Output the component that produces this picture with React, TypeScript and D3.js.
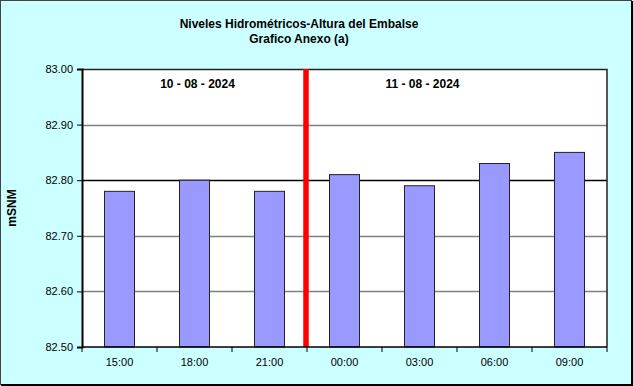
import React, { useEffect, useRef } from 'react';
import * as d3 from 'd3';

const width = 633;
const height = 386;

const categories = ['15:00', '18:00', '21:00', '00:00', '03:00', '06:00', '09:00'];
const levels = [82.78, 82.8, 82.78, 82.81, 82.79, 82.83, 82.85];
const yTicks = [82.5, 82.6, 82.7, 82.8, 82.9, 83.0];
const dayLabels = ['10 - 08 - 2024', '11 - 08 - 2024'];
const dayLabelOver = ['18:00', '03:00'];
const dayBreakAfter = '21:00';

const margin = { top: 69, right: 26, bottom: 39, left: 82 };

const App: React.FC = () => {
  const ref = useRef<SVGSVGElement>(null);

  useEffect(() => {
    if (!ref.current) return;
    const svg = d3.select(ref.current);
    svg.selectAll('*').remove();

    const plotW = width - margin.left - margin.right;
    const plotH = height - margin.top - margin.bottom;

    // outer frame
    svg
      .append('rect')
      .attr('x', 0.5)
      .attr('y', 0.5)
      .attr('width', width - 2)
      .attr('height', height - 2)
      .attr('fill', '#ccffff')
      .attr('stroke', '#444');
    svg
      .append('path')
      .attr('d', `M${width - 1},1V${height - 1}H1`)
      .attr('fill', 'none')
      .attr('stroke', '#000')
      .attr('stroke-width', 2);

    const title = svg
      .append('text')
      .attr('x', 299)
      .attr('text-anchor', 'middle')
      .style('font-family', 'Arial, "Liberation Sans", sans-serif')
      .style('font-size', '12px')
      .style('font-weight', 'bold');
    title.append('tspan').attr('x', 299).attr('y', 28).text('Niveles Hidrométricos-Altura del Embalse');
    title.append('tspan').attr('x', 299).attr('y', 43).text('Grafico Anexo (a)');

    const g = svg.append('g').attr('transform', `translate(${margin.left},${margin.top})`);

    const x = d3.scaleBand().domain(categories).range([0, plotW]).paddingInner(0.6).paddingOuter(0.3);
    const y = d3.scaleLinear().domain([82.5, 83.0]).range([plotH, 0]);

    g.append('rect').attr('width', plotW).attr('height', plotH).attr('fill', '#fff');

    // gridlines
    g.selectAll('line.grid')
      .data(yTicks.slice(1, -1))
      .enter()
      .append('line')
      .attr('x1', 0)
      .attr('x2', plotW)
      .attr('y1', d => Math.round(y(d)) + 0.5)
      .attr('y2', d => Math.round(y(d)) + 0.5)
      .attr('stroke', d => (Math.abs(d - 82.8) < 1e-6 ? '#000' : '#808080'))
      .attr('stroke-width', 1.5);

    // top and right border
    g.append('path')
      .attr('d', `M0,0.5H${plotW}V${plotH}`)
      .attr('fill', 'none')
      .attr('stroke', '#222')
      .attr('stroke-width', 1.5);

    // bars
    g.selectAll('rect.bar')
      .data(levels)
      .enter()
      .append('rect')
      .attr('x', (d, i) => x(categories[i])!)
      .attr('y', d => y(d))
      .attr('width', x.bandwidth())
      .attr('height', d => plotH - y(d))
      .attr('fill', '#9999ff')
      .attr('stroke', '#222')
      .attr('stroke-width', 1);

    // day separator
    const step = x.step();
    const breakX = x(dayBreakAfter)! + x.bandwidth() / 2 + step / 2;
    g.append('line')
      .attr('x1', breakX - 1)
      .attr('x2', breakX - 1)
      .attr('y1', 0)
      .attr('y2', plotH)
      .attr('stroke', '#ff0000')
      .attr('stroke-width', 5.5);

    // y axis
    const yAxis = g
      .append('g')
      .call(d3.axisLeft(y).tickValues(yTicks).tickSize(5).tickFormat(d3.format('.2f')));
    yAxis.select('.domain').attr('stroke', '#000').attr('stroke-width', 2);
    yAxis.selectAll('.tick line').attr('stroke', '#000');
    yAxis
      .selectAll('text')
      .attr('x', -9)
      .style('font-family', 'Arial, "Liberation Sans", sans-serif')
      .style('font-size', '11px')
      .attr('fill', '#000');

    // x axis
    const bounds = d3.range(categories.length + 1).map(i => i * step);
    const xAxis = g.append('g').attr('transform', `translate(0,${plotH})`);
    xAxis
      .append('line')
      .attr('x1', 0)
      .attr('x2', plotW)
      .attr('stroke', '#000')
      .attr('stroke-width', 1.5);
    xAxis
      .selectAll('line.tick')
      .data(bounds)
      .enter()
      .append('line')
      .attr('x1', d => d)
      .attr('x2', d => d)
      .attr('y1', 0)
      .attr('y2', 5)
      .attr('stroke', '#000');
    xAxis
      .selectAll('text')
      .data(categories)
      .enter()
      .append('text')
      .attr('x', d => x(d)! + x.bandwidth() / 2)
      .attr('y', 19)
      .attr('text-anchor', 'middle')
      .style('font-family', 'Arial, "Liberation Sans", sans-serif')
      .style('font-size', '11px')
      .text(d => d);

    // day labels
    g.selectAll('text.day')
      .data(dayLabels)
      .enter()
      .append('text')
      .attr('x', (d, i) => x(dayLabelOver[i])! + x.bandwidth() / 2 + 3)
      .attr('y', 19)
      .attr('text-anchor', 'middle')
      .style('font-family', 'Arial, "Liberation Sans", sans-serif')
      .style('font-size', '12px')
      .style('font-weight', 'bold')
      .text(d => d);

    // y title
    svg
      .append('text')
      .attr('transform', `translate(16,${margin.top + plotH / 2}) rotate(-90)`)
      .attr('text-anchor', 'middle')
      .style('font-family', 'Arial, "Liberation Sans", sans-serif')
      .style('font-size', '12px')
      .style('font-weight', 'bold')
      .text('mSNM');
  }, []);

  return (
    <svg
      ref={ref}
      width={width}
      height={height}
      style={{ position: 'absolute', top: 0, left: 0 }}
    />
  );
};

export default App;
